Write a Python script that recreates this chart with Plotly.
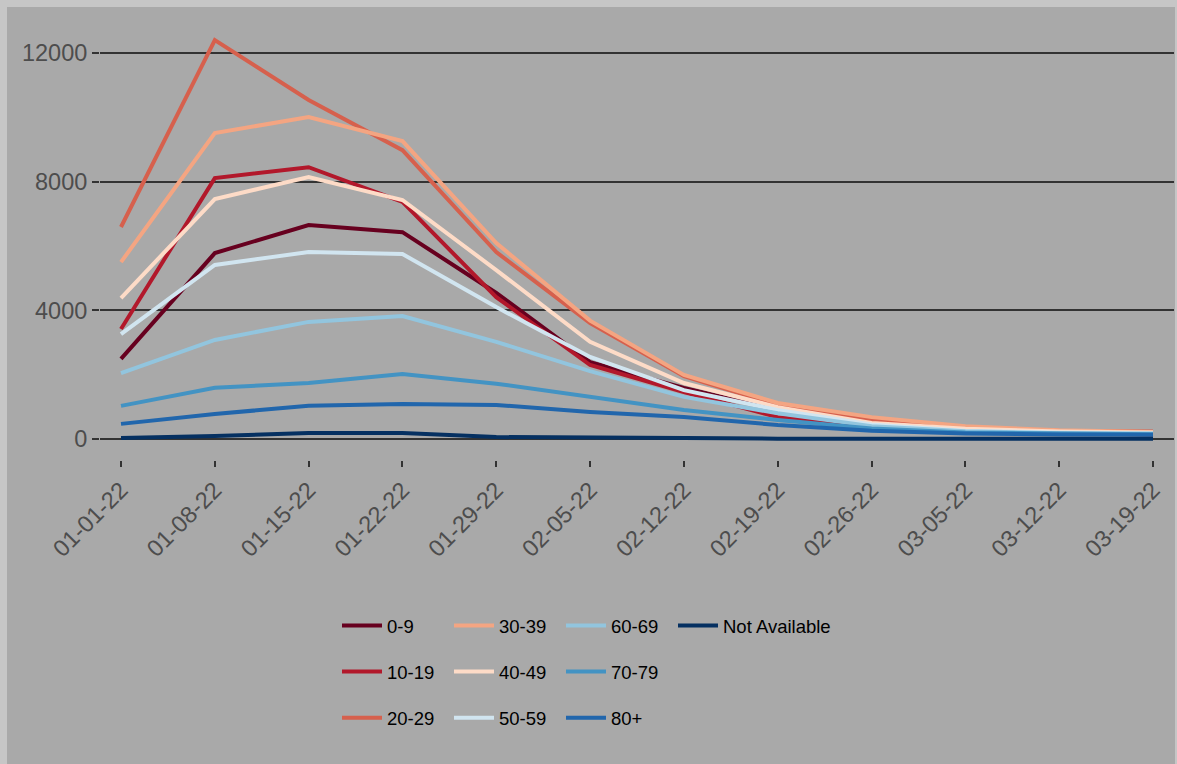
import plotly.graph_objects as go
import pandas as pd

weeks = pd.date_range("2022-01-01", periods=12, freq="7D")
tick_labels = [d.strftime("%m-%d-%y") for d in weeks]

age_groups = ["0-9", "10-19", "20-29", "30-39", "40-49", "50-59",
              "60-69", "70-79", "80+", "Not Available"]

v_0_9 = [2490, 5780, 6650, 6430, 4540, 2390, 1590, 900, 450, 270, 190, 150]
v_10_19 = [3420, 8110, 8450, 7370, 4410, 2300, 1460, 680, 420, 230, 170, 150]
v_20_29 = [6590, 12400, 10540, 8980, 5810, 3600, 1950, 1060, 580, 360, 260, 230]
v_30_39 = [5500, 9510, 10010, 9260, 6090, 3680, 1990, 1120, 680, 400, 270, 220]
v_40_49 = [4380, 7460, 8140, 7430, 5250, 3020, 1740, 990, 500, 320, 230, 200]
v_50_59 = [3260, 5410, 5810, 5750, 4100, 2550, 1520, 900, 450, 260, 200, 180]
v_60_69 = [2050, 3080, 3640, 3820, 3020, 2110, 1310, 800, 400, 240, 180, 170]
v_70_79 = [1030, 1590, 1740, 2020, 1720, 1310, 900, 590, 330, 200, 160, 150]
v_80p = [470, 780, 1030, 1090, 1060, 840, 680, 435, 260, 170, 140, 130]
v_na = [30, 90, 190, 190, 60, 30, 30, 10, 5, 5, 5, 5]

series = [v_0_9, v_10_19, v_20_29, v_30_39, v_40_49, v_50_59,
          v_60_69, v_70_79, v_80p, v_na]

colors = ["#67001F", "#B2182B", "#D6604D", "#F4A582", "#FDDBC7",
          "#D1E5F0", "#92C5DE", "#4393C3", "#2166AC", "#053061"]

legend_ids = ["legend", "legend", "legend", "legend2", "legend2", "legend2",
              "legend3", "legend3", "legend3", "legend4"]

FONT = "Liberation Sans, Arial, sans-serif"

fig = go.Figure()
for name, vals, col, lg in zip(age_groups, series, colors, legend_ids):
    fig.add_trace(go.Scatter(
        x=weeks, y=vals, mode="lines", name=name,
        line=dict(color=col, width=4),
        legend=lg, legendgroup=name,
    ))

FW, FH = 1177, 764
# plot area geometry (pixels)
L, R, T, B = 100, 3, 20, 304
W = FW - L - R
H = FH - T - B

def px_x(px):
    return (px - L) / W

def px_y(py):
    return (T + H - py) / H

legend_common = dict(
    orientation="v", yanchor="top", xanchor="left",
    bgcolor="rgba(0,0,0,0)", borderwidth=0,
    font=dict(family=FONT, size=18.5, color="#000000"),
    tracegroupgap=19, itemwidth=40,
)
legend_y = px_y(607)
col_x = [337, 449, 561, 673]

bg = "#A9A9A9"
edge = "#C6C6C6"

fig.update_layout(
    width=FW, height=FH,
    margin=dict(l=L, r=R, t=T, b=B, autoexpand=False),
    paper_bgcolor=bg, plot_bgcolor=bg,
    font=dict(family=FONT),
    legend=dict(x=px_x(col_x[0]), y=legend_y, **legend_common),
    legend2=dict(x=px_x(col_x[1]), y=legend_y, **legend_common),
    legend3=dict(x=px_x(col_x[2]), y=legend_y, **legend_common),
    legend4=dict(x=px_x(col_x[3]), y=legend_y, **legend_common),
    xaxis=dict(
        type="date",
        range=["2021-12-30 10:24", "2022-03-20 13:36"],
        tickvals=weeks, ticktext=tick_labels,
        tickangle=-45,
        ticks="outside", ticklen=6, tickwidth=2, tickcolor="#333333",
        showgrid=False, zeroline=False, showline=False,
        tickfont=dict(family=FONT, size=23.5, color="#4D4D4D"),
        automargin=False,
    ),
    yaxis=dict(
        range=[-653, 13025],
        tickvals=[0, 4000, 8000, 12000],
        ticktext=["0", "4000", "8000", "12000"],
        ticks="outside", ticklen=7, tickwidth=2, tickcolor="#333333",
        showgrid=True, gridcolor="#333333", gridwidth=2,
        zeroline=False, showline=False,
        tickfont=dict(family=FONT, size=23.5, color="#4D4D4D"),
        automargin=False,
    ),
    shapes=[
        dict(type="rect", xref="paper", yref="paper", layer="above",
             x0=px_x(0), x1=px_x(7), y0=px_y(FH), y1=px_y(0),
             fillcolor=edge, line=dict(width=0)),
        dict(type="rect", xref="paper", yref="paper", layer="above",
             x0=px_x(0), x1=px_x(FW), y0=px_y(7), y1=px_y(0),
             fillcolor=edge, line=dict(width=0)),
        dict(type="rect", xref="paper", yref="paper", layer="above",
             x0=px_x(FW - 2), x1=px_x(FW), y0=px_y(FH), y1=px_y(0),
             fillcolor=edge, line=dict(width=0)),
    ],
)

fig.write_html(
    "out.html",
    config={"displayModeBar": False},
    post_script="document.body.style.margin='0';"
                "document.documentElement.style.overflow='hidden';"
                "document.body.style.overflow='hidden';",
)
